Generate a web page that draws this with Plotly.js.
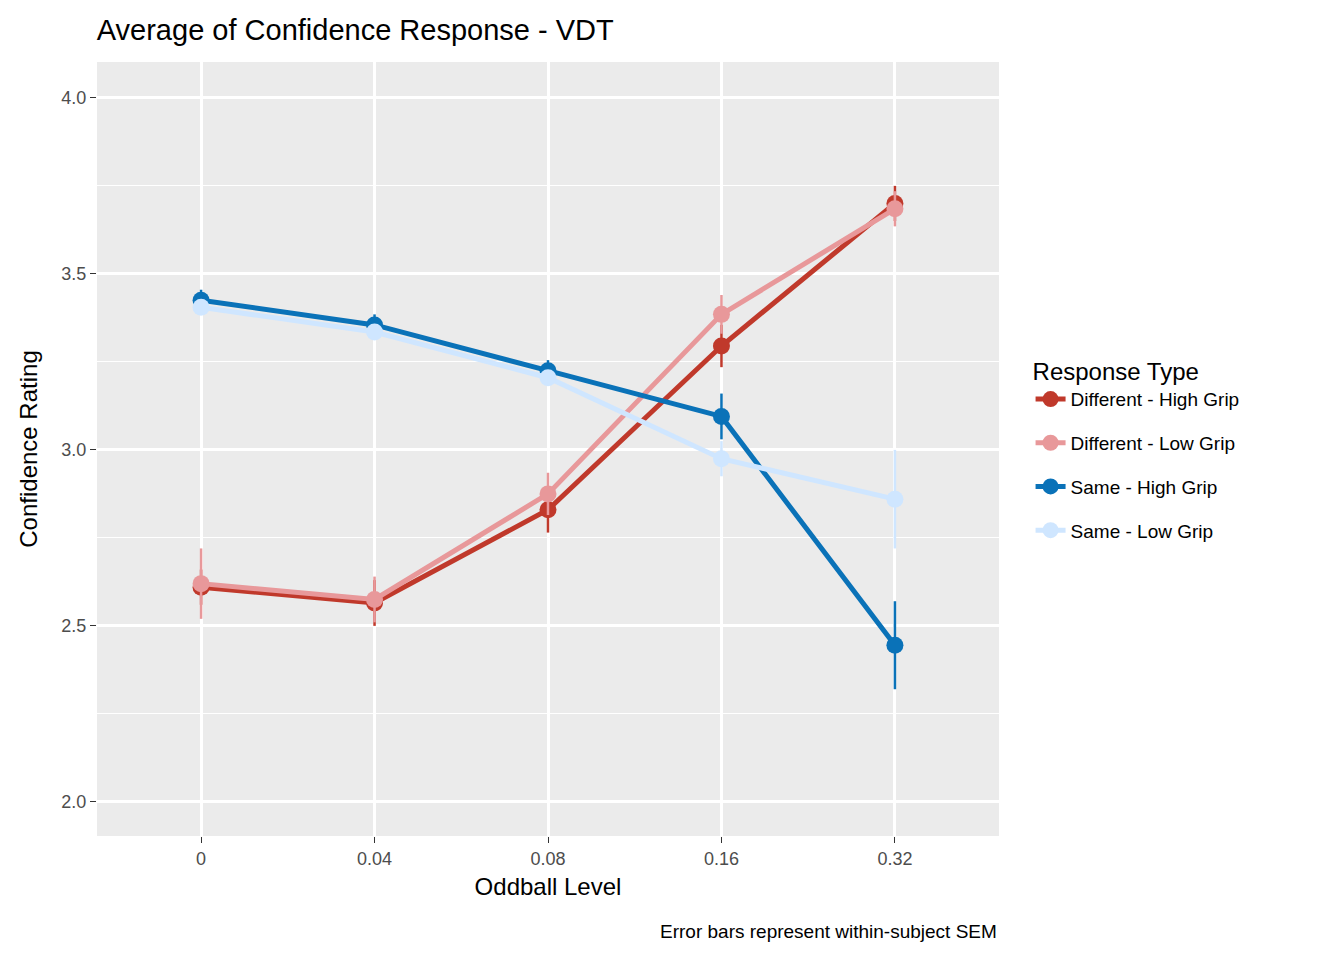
<!DOCTYPE html>
<html><head><meta charset="utf-8">
<script src="https://cdn.plot.ly/plotly-3.0.1.min.js"></script>
<style>body{margin:0}</style></head>
<body><div id="chart" style="width:1344px;height:960px"></div>
<script>
const levels = ['0', '0.04', '0.08', '0.16', '0.32'];
const diffHigh = [2.61, 2.565, 2.83, 3.295, 3.70];
const diffHighErr = [0.05, 0.065, 0.065, 0.06, 0.05];
const diffLow = [2.62, 2.575, 2.875, 3.385, 3.685];
const diffLowErr = [0.1, 0.065, 0.06, 0.055, 0.05];
const sameHigh = [3.425, 3.355, 3.225, 3.095, 2.445];
const sameHighErr = [0.03, 0.03, 0.03, 0.065, 0.125];
const sameLow = [3.405, 3.335, 3.205, 2.975, 2.86];
const sameLowErr = [0.02, 0.02, 0.02, 0.05, 0.14];

function series(name, y, err, color) {
    return {
        x: levels, y: y, name: name, legendgroup: name, type: 'scatter', mode: 'lines+markers',
        line: {color: color, width: 5}, marker: {color: color, size: 17},
        error_y: {type: 'data', array: err, color: color, thickness: 2.5, width: 0}
    };
}

var data = [
    series('Different - High Grip', diffHigh, diffHighErr, '#c0392b'),
    series('Different - Low Grip', diffLow, diffLowErr, '#e8989a'),
    series('Same - High Grip', sameHigh, sameHighErr, '#0a72b8'),
    series('Same - Low Grip', sameLow, sameLowErr, '#cfe6ff')
];

var layout = {
    font: {family: 'Liberation Sans, Arial', size: 18, color: '#000'},
    title: {text: 'Average of Confidence Response - VDT', x: 0.072, xanchor: 'left', y: 0.969, yanchor: 'middle', font: {size: 29}},
    paper_bgcolor: '#fff', plot_bgcolor: '#ebebeb',
    margin: {l: 97, r: 345, t: 62, b: 124},
    showlegend: true,
    legend: {x: 1.035, y: 0.5, yanchor: 'middle', title: {text: 'Response Type', font: {size: 24}},
             font: {size: 19}, tracegroupgap: 16, traceorder: 'grouped'},
    xaxis: {type: 'category', range: [-0.6, 4.6], gridcolor: '#fff', gridwidth: 2.5,
            ticks: 'outside', ticklen: 6, tickcolor: '#333', tickfont: {size: 18, color: '#4d4d4d'},
            title: {text: 'Oddball Level', font: {size: 24}, standoff: 10}, zeroline: false},
    yaxis: {range: [1.903, 4.102], tickvals: [2, 2.5, 3, 3.5, 4], ticktext: ['2.0', '2.5', '3.0', '3.5', '4.0'],
            gridcolor: '#fff', gridwidth: 2.5, ticks: 'outside', ticklen: 6, tickcolor: '#333',
            tickfont: {size: 18, color: '#4d4d4d'},
            title: {text: 'Confidence Rating', font: {size: 24}, standoff: 16}, zeroline: false,
            minor: {tickvals: [2.25, 2.75, 3.25, 3.75], gridcolor: '#fff', gridwidth: 1.2}},
    annotations: [{text: 'Error bars represent within-subject SEM', xref: 'paper', yref: 'paper',
                   x: 1, y: -0.124, xanchor: 'right', yanchor: 'middle', showarrow: false, font: {size: 19}}]
};

Plotly.newPlot('chart', data, layout, {displayModeBar: false});
</script></body></html>
